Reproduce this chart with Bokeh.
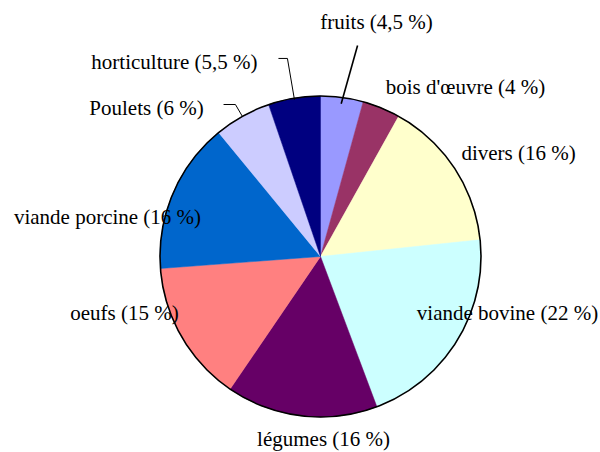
import numpy as np
from bokeh.plotting import figure
from bokeh.models import Range1d, ColumnDataSource
from bokeh.core.properties import value
from bokeh.embed import file_html
from bokeh.resources import INLINE

# ---- data ----
categories = ["fruits", "bois d'œuvre", "divers", "viande bovine", "légumes",
              "oeufs", "viande porcine", "Poulets", "horticulture"]
shares = [4.5, 4, 16, 22, 16, 15, 16, 6, 5.5]
label_texts = ["fruits (4,5 %)", "bois d'œuvre (4 %)", "divers (16 %)",
               "viande bovine (22 %)", "légumes (16 %)", "oeufs (15 %)",
               "viande porcine (16 %)", "Poulets (6 %)", "horticulture (5,5 %)"]
colors = ["#9999FF", "#993366", "#FFFFCC", "#CCFFFF", "#660066",
          "#FF8080", "#0066CC", "#CCCCFF", "#000080"]

# ---- layout (positions in pie-radius units, centre at 0,0) ----
label_x = [0.349, 0.903, 1.234, 1.165, 0.019, -1.221, -1.327, -1.084, -0.910]
label_y = [1.458, 1.053, 0.642, -0.349, -1.135, -0.355, 0.249, 0.928, 1.209]
# leader lines: category index -> (outer points, radius of inner end, width)
leaders = {
    0: ([(0.231, 1.315)], 0.96, 1.6),
    8: ([(-0.262, 1.234), (-0.206, 1.234)], 0.99, 1.0),
    7: ([(-0.604, 0.947), (-0.530, 0.947)], 1.0, 1.0),
}

R_PX = 160.5
CX, CY = 320.0, 256.0   # pie centre in canvas px
W, H = 600, 452

vals = np.array(shares, dtype=float)
frac = vals / vals.sum()
cum = np.concatenate([[0], np.cumsum(frac)])
start = np.pi / 2 - 2 * np.pi * cum[:-1]
end = np.pi / 2 - 2 * np.pi * cum[1:]
mid = (start + end) / 2

src = ColumnDataSource(dict(start=start, end=end, color=colors, cat=categories))

p = figure(width=W, height=H, output_backend="svg", toolbar_location=None, tools="",
           x_range=Range1d(-CX / R_PX, (W - CX) / R_PX),
           y_range=Range1d(-(H - CY) / R_PX, CY / R_PX),
           min_border=0,
           styles={"position": "absolute", "left": "0px", "top": "0px"})
p.axis.visible = False
p.grid.visible = False
p.outline_line_color = None
p.background_fill_color = "white"
p.border_fill_color = "white"

p.wedge(x=0, y=0, radius=1, start_angle="start", end_angle="end", direction="clock",
        fill_color="color", line_color="color", line_width=0.5, source=src)
p.circle(x=0, y=0, radius=1, fill_color=None, line_color="black", line_width=1.6)

xs, ys, ws = [], [], []
for i, (pts, r_in, lw) in leaders.items():
    lx = [pt[0] for pt in pts] + [r_in * np.cos(mid[i])]
    ly = [pt[1] for pt in pts] + [r_in * np.sin(mid[i])]
    xs.append(lx); ys.append(ly); ws.append(lw)
p.multi_line(xs=xs, ys=ys, line_color="black", line_width=ws)

p.text(x=label_x, y=label_y, text=label_texts, text_align="center",
       text_baseline="middle", text_font=value("Liberation Serif"),
       text_font_size="21px", text_color="black")

open("out.html", "w").write(file_html(p, INLINE))
